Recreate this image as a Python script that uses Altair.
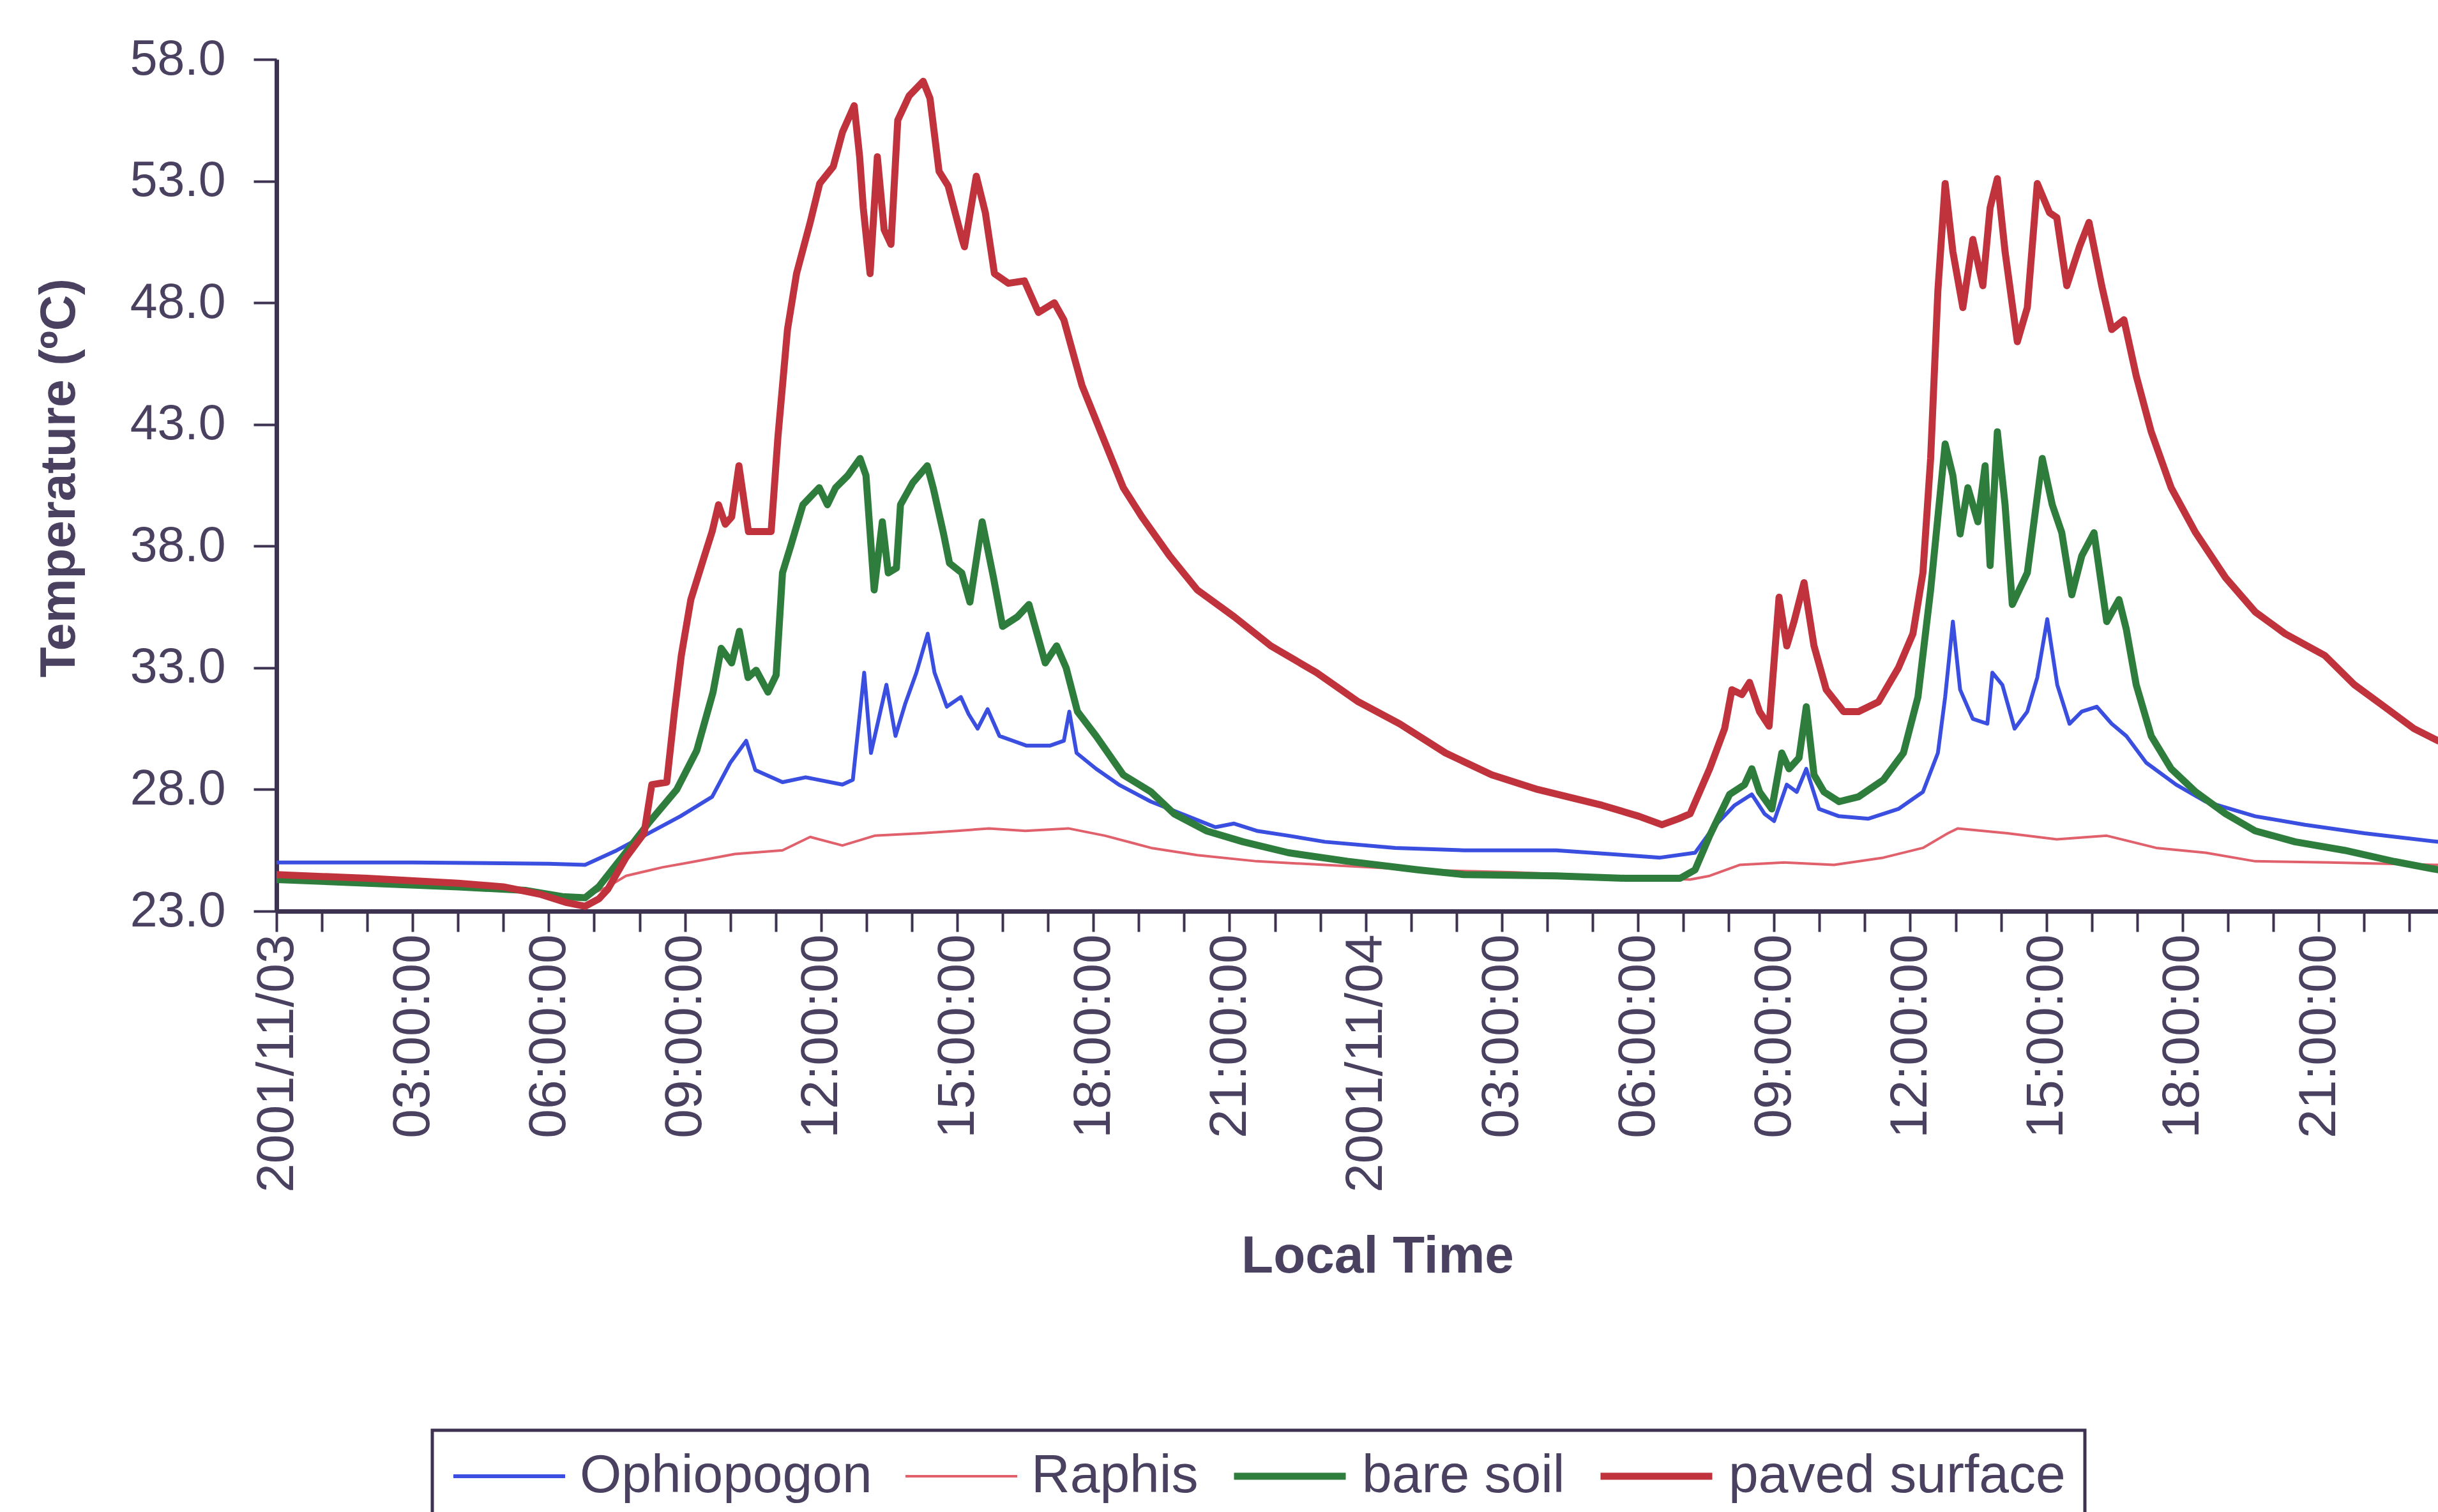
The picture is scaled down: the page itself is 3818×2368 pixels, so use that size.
import altair as alt
import pandas as pd

# ---------------- data ----------------
series_names = ["Ophiopogon", "Raphis", "bare soil", "paved surface"]
series_colors = ["#3a4fe0", "#e0606c", "#2f7d3c", "#c0333d"]
series_widths = [6, 4, 11, 11]

ophiopogon_hours = [0, 3, 6, 6.8, 7.5, 8.1, 8.9, 9.6, 10.0, 10.35, 10.55, 11.15, 11.66, 12.47, 12.7,
                    12.95, 13.1, 13.44, 13.64, 13.85, 14.1, 14.35, 14.5, 14.77, 15.08, 15.25, 15.45,
                    15.67, 15.93, 16.23, 16.53, 17.04, 17.35, 17.47, 17.63, 18.06, 18.56, 19.27, 20.08,
                    20.69, 21.1, 21.6, 22.3, 23.1, 24.65, 26.17, 28.2, 29.72, 30.49, 31.26, 31.69,
                    32.13, 32.51, 32.79, 33.0, 33.28, 33.5, 33.71, 33.99, 34.43, 35.08, 35.74, 36.28,
                    36.61, 36.77, 36.94, 37.1, 37.38, 37.7, 37.81, 38.03, 38.3, 38.58, 38.8, 39.02,
                    39.24, 39.51, 39.78, 40.11, 40.44, 40.76, 41.2, 41.86, 42.51, 43.6, 44.7, 46.01, 47.63]
ophiopogon_temp = [25.0, 25.0, 24.95, 24.9, 25.5, 26.1, 26.9, 27.7, 29.1, 30.0, 28.8, 28.3, 28.5, 28.2, 28.4,
                   32.8, 29.5, 32.3, 30.2, 31.5, 32.8, 34.4, 32.8, 31.4, 31.8, 31.1, 30.5,
                   31.3, 30.2, 30.0, 29.8, 29.8, 30.0, 31.2, 29.5, 28.85, 28.2, 27.5, 26.9,
                   26.45, 26.6, 26.3, 26.1, 25.85, 25.6, 25.5, 25.5, 25.3, 25.2, 25.4, 26.5,
                   27.35, 27.8, 27.0, 26.7, 28.2, 27.9, 28.85, 27.2, 26.9, 26.8, 27.2, 27.9,
                   29.5, 31.8, 34.9, 32.1, 30.9, 30.7, 32.8, 32.3, 30.5, 31.2, 32.6, 35.0,
                   32.3, 30.7, 31.2, 31.4, 30.7, 30.2, 29.1, 28.2, 27.5, 26.9, 26.55, 26.2, 25.85]

raphis_hours = [0, 2, 4, 6, 6.8, 7.3, 7.7, 8.5, 9.1, 10.1, 11.15, 11.76, 12.47, 13.18, 14.2, 15.0, 15.7,
                16.5, 17.45, 18.26, 19.27, 20.29, 21.6, 23.1, 25.15, 27.2, 29.2, 30.5, 31.15, 31.58,
                32.24, 33.22, 34.32, 35.41, 36.28, 36.83, 37.05, 38.14, 39.23, 40.33, 41.42, 42.51,
                43.6, 45.25, 47.63]
raphis_temp = [24.3, 24.2, 24.0, 23.7, 23.6, 24.0, 24.45, 24.8, 25.0, 25.35, 25.5, 26.05, 25.7, 26.1, 26.2,
               26.3, 26.4, 26.3, 26.4, 26.1, 25.6, 25.3, 25.05, 24.9, 24.7, 24.6, 24.45, 24.35, 24.3,
               24.45, 24.9, 25.0, 24.9, 25.2, 25.6, 26.2, 26.4, 26.2, 25.95, 26.1, 25.6, 25.4,
               25.05, 25.0, 24.9]

bare_soil_hours = [0, 2, 4, 5.5, 6.3, 6.8, 7.1, 7.65, 8.19, 8.82, 9.26, 9.62, 9.8, 10.03, 10.2, 10.39,
                   10.57, 10.83, 11.01, 11.15, 11.33, 11.6, 11.96, 12.14, 12.32, 12.59, 12.86, 12.99,
                   13.17, 13.35, 13.48, 13.66, 13.75, 14.02, 14.34, 14.47, 14.7, 14.83, 15.1, 15.28,
                   15.55, 15.8, 16.0, 16.33, 16.58, 16.94, 17.19, 17.4, 17.65, 18.06, 18.66, 19.27,
                   19.78, 20.49, 21.3, 22.3, 23.6, 25.15, 26.17, 28.2, 29.72, 30.93, 31.26, 31.58,
                   32.02, 32.35, 32.51, 32.68, 32.95, 33.17, 33.33, 33.55, 33.71, 33.88, 34.1, 34.43,
                   34.86, 35.41, 35.85, 36.17, 36.45, 36.61, 36.77, 36.94, 37.1, 37.27, 37.49, 37.65,
                   37.76, 37.92, 38.09, 38.25, 38.58, 38.91, 39.13, 39.34, 39.56, 39.78, 40.05, 40.33,
                   40.6, 40.76, 40.98, 41.31, 41.75, 42.29, 42.95, 43.6, 44.48, 45.57, 46.67, 47.63]
bare_soil_temp = [24.3, 24.15, 24.0, 23.85, 23.6, 23.55, 24.0, 25.3, 26.6, 28.0, 29.6, 32.0, 33.8, 33.2,
                  34.5, 32.6, 32.9, 32.0, 32.7, 36.9, 38.0, 39.7, 40.4, 39.7, 40.4, 40.9, 41.6, 40.9,
                  36.2, 39.0, 36.9, 37.1, 39.7, 40.6, 41.3, 40.4, 38.5, 37.3, 36.9, 35.7,
                  39.0, 36.7, 34.7, 35.1, 35.6, 33.2, 33.9, 33.0, 31.2, 30.2, 28.6, 27.9,
                  27.0, 26.3, 25.85, 25.4, 25.05, 24.7, 24.5, 24.45, 24.35, 24.35, 24.7, 26.1,
                  27.8, 28.2, 28.85, 27.9, 27.2, 29.5, 28.85, 29.3, 31.4, 28.6, 27.9, 27.5,
                  27.7, 28.4, 29.5, 31.8, 36.2, 39.2, 42.2, 40.9, 38.5, 40.4, 39.0, 41.3,
                  37.2, 42.7, 39.7, 35.6, 36.9, 41.6, 39.7, 38.55, 36.0, 37.6, 38.55, 34.9,
                  35.8, 34.6, 32.3, 30.2, 28.85, 27.9, 27.0, 26.3, 25.85, 25.5, 25.04, 24.7]

paved_hours = [0, 2, 4, 5, 5.8, 6.4, 6.8, 7.1, 7.3, 7.7, 8.1, 8.27, 8.6, 8.77, 8.92, 9.13, 9.43, 9.6,
               9.74, 9.89, 10.03, 10.19, 10.4, 10.9, 11.05, 11.26, 11.46, 11.76, 11.97, 12.27, 12.47,
               12.73, 12.85, 12.93, 13.08, 13.24, 13.39, 13.54, 13.69, 13.94, 14.25, 14.4, 14.6,
               14.8, 15.11, 15.16, 15.42, 15.62, 15.82, 16.13, 16.48, 16.79, 17.14, 17.35, 17.75,
               18.16, 18.66, 19.07, 19.68, 20.29, 21.1, 21.91, 22.92, 23.84, 24.75, 25.76, 26.78,
               27.79, 29.21, 30.02, 30.53, 30.9, 31.15, 31.58, 31.91, 32.07, 32.29, 32.46, 32.68,
               32.89, 33.11, 33.28, 33.44, 33.66, 33.88, 34.15, 34.53, 34.86, 35.3, 35.74, 36.06,
               36.28, 36.45, 36.61, 36.77, 36.94, 37.16, 37.38, 37.6, 37.76, 37.92, 38.09, 38.36,
               38.58, 38.8, 39.07, 39.23, 39.45, 39.73, 39.94, 40.22, 40.44, 40.71, 40.98, 41.31,
               41.75, 42.29, 42.95, 43.6, 44.26, 45.14, 45.79, 46.45, 47.1, 47.63]
paved_temp = [24.5, 24.35, 24.15, 24.0, 23.7, 23.35, 23.2, 23.5, 23.9, 25.2, 26.2, 28.2, 28.3, 31.2,
              33.5, 35.8, 37.6, 38.6, 39.7, 38.9, 39.2, 41.3, 38.6, 38.6, 42.5, 46.9, 49.2, 51.3,
              52.9, 53.6, 55.0, 56.1, 54.0, 51.9, 49.2, 54.0, 51.0, 50.4, 55.5, 56.5, 57.1, 56.4,
              53.4, 52.8, 50.6, 50.3, 53.2, 51.7, 49.2, 48.8, 48.9, 47.6, 48.0, 47.3, 44.6,
              42.7, 40.4, 39.2, 37.6, 36.2, 35.1, 33.9, 32.8, 31.6, 30.7, 29.5, 28.6,
              28.0, 27.35, 26.9, 26.55, 26.8, 27.0, 28.85, 30.5, 32.1, 31.9, 32.4, 31.2,
              30.6, 35.9, 33.9, 34.9, 36.5, 33.9, 32.1, 31.2, 31.2, 31.6, 33.0, 34.4,
              36.9, 41.6, 48.5, 52.9, 50.1, 47.8, 50.6, 48.7, 51.9, 53.1, 50.1, 46.4,
              47.8, 52.9, 51.7, 51.5, 48.7, 50.3, 51.3, 48.7, 46.9, 47.3, 45.0, 42.7,
              40.4, 38.55, 36.7, 35.3, 34.4, 33.5, 32.3, 31.4, 30.5, 30.0]

# axis ticks / labels
tick_hours = list(range(0, 48))
label_hours = [0, 3, 6, 9, 12, 15, 18, 21, 24, 27, 30, 33, 36, 39, 42, 45]
label_texts = ["2001/11/03", "03:00:00", "06:00:00", "09:00:00", "12:00:00", "15:00:00",
               "18:00:00", "21:00:00", "2001/11/04", "03:00:00", "06:00:00", "09:00:00",
               "12:00:00", "15:00:00", "18:00:00", "21:00:00"]
y_ticks = [23, 28, 33, 38, 43, 48, 53, 58]

# ---------------- table ----------------
rows = []
for name, hrs, temps in [("Ophiopogon", ophiopogon_hours, ophiopogon_temp),
                         ("Raphis", raphis_hours, raphis_temp),
                         ("bare soil", bare_soil_hours, bare_soil_temp),
                         ("paved surface", paved_hours, paved_temp)]:
    for h, t in zip(hrs, temps):
        rows.append({"series": name, "hour": h, "temp": t})
df = pd.DataFrame(rows)

lab_arr = [""] * len(tick_hours)
for h, t in zip(label_hours, label_texts):
    lab_arr[h] = t
label_expr = "[" + ",".join("'" + s + "'" for s in lab_arr) + "][round(datum.value)]"

AXIS_COLOR = "#3d3350"
TEXT_COLOR = "#4a4060"
FONT = "Liberation Sans"

legend_common = dict(
    title=None, orient="none", legendX=244, legendY=2147, direction="horizontal",
    symbolType="stroke", symbolSize=30625, clipHeight=84,
    labelFontSize=84, labelFont=FONT, labelColor=TEXT_COLOR, labelOffset=20, labelLimit=0,
    columnPadding=50, padding=30, strokeColor=AXIS_COLOR,
)

chart = alt.Chart(df).mark_line(clip=True, strokeJoin="round", strokeCap="round").encode(
    x=alt.X("hour:Q",
            scale=alt.Scale(domain=[0, 47.63], nice=False, zero=False),
            axis=alt.Axis(values=tick_hours, labelExpr=label_expr, labelAngle=270,
                          labelOverlap=False, labelFlush=False, labelLimit=0, grid=False,
                          tickSize=32, tickWidth=4, tickColor=AXIS_COLOR,
                          domainWidth=7, domainColor=AXIS_COLOR,
                          labelPadding=4, labelFontSize=82, labelFont=FONT, labelColor=TEXT_COLOR,
                          title="Local Time", titleX=1724, titleY=540, titleAlign="center",
                          titleBaseline="middle", titleFontSize=82, titleFont=FONT,
                          titleFontWeight="bold", titleColor=TEXT_COLOR)),
    y=alt.Y("temp:Q",
            scale=alt.Scale(domain=[23, 58], nice=False, zero=False),
            axis=alt.Axis(values=y_ticks, format=".1f", grid=False,
                          tickSize=36, tickWidth=4, tickColor=AXIS_COLOR,
                          domainWidth=7, domainColor=AXIS_COLOR,
                          labelPadding=44, labelFontSize=77, labelFont=FONT, labelColor=TEXT_COLOR,
                          title="Temperature (ºC)", titleAngle=270, titleX=-340, titleY=655,
                          titleAlign="center", titleBaseline="middle", titleFontSize=78,
                          titleFont=FONT, titleFontWeight="bold", titleColor=TEXT_COLOR)),
    color=alt.Color("series:N",
                    scale=alt.Scale(domain=series_names, range=series_colors),
                    legend=alt.Legend(**legend_common)),
    strokeWidth=alt.StrokeWidth("series:N",
                                scale=alt.Scale(type="ordinal", domain=series_names,
                                                range=series_widths),
                                legend=alt.Legend(**legend_common)),
).properties(
    width=3385, height=1334,
    autosize=alt.AutoSizeParams(type="none"),
    padding={"left": 433, "top": 93, "right": 0, "bottom": 941},
    background="white",
).configure_view(strokeWidth=0).configure_legend(strokeWidth=5)

chart.save("out.html", embed_options={"renderer": "svg", "actions": False})
